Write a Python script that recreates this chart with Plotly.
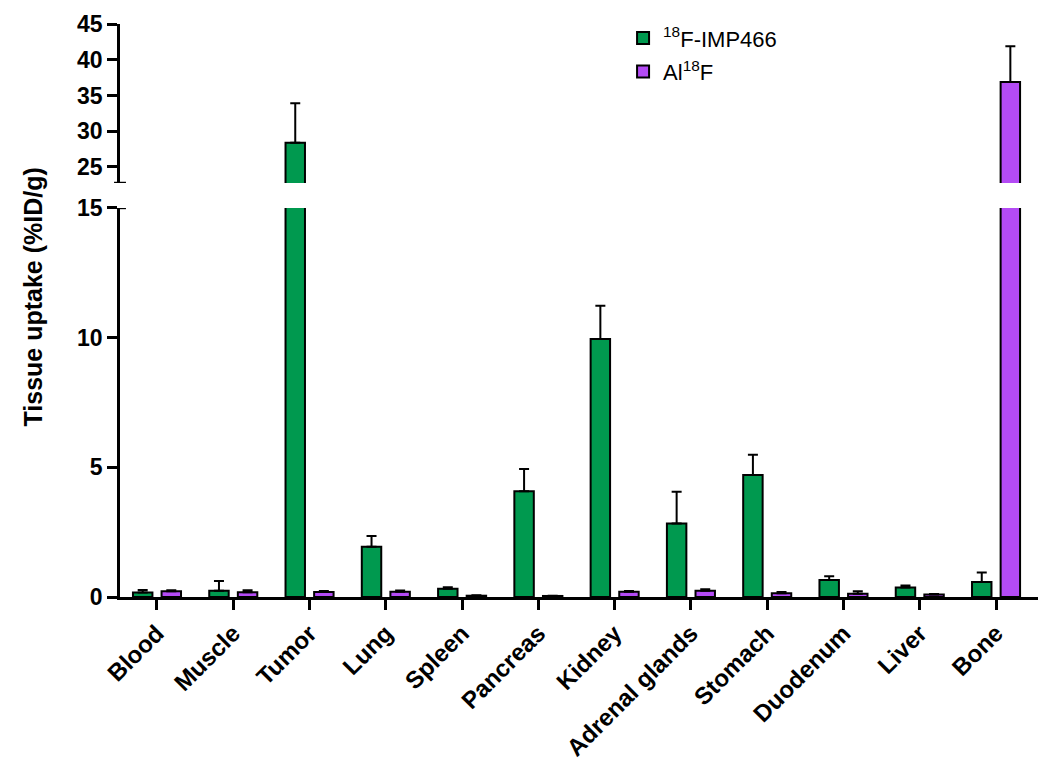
import plotly.graph_objects as go

# tissue uptake, %ID/g (mean and upper SD)
tissues = ["Blood", "Muscle", "Tumor", "Lung", "Spleen", "Pancreas", "Kidney",
           "Adrenal glands", "Stomach", "Duodenum", "Liver", "Bone"]
imp466 = [0.17, 0.24, 28.4, 1.94, 0.32, 4.08, 9.95, 2.83, 4.70, 0.66, 0.37, 0.58]
imp466_sd = [0.10, 0.38, 5.5, 0.41, 0.06, 0.85, 1.28, 1.23, 0.78, 0.14, 0.07, 0.36]
alf = [0.22, 0.18, 0.19, 0.20, 0.05, 0.04, 0.20, 0.24, 0.14, 0.13, 0.10, 36.9]
alf_sd = [0.04, 0.08, 0.04, 0.05, 0.02, 0.01, 0.03, 0.06, 0.05, 0.09, 0.02, 5.0]

lower_ticks = [0, 5, 10, 15]
upper_ticks = [25, 30, 35, 40, 45]

GREEN = "#00994F"
PURPLE = "#B44BF5"
FONT = "Liberation Sans, Arial, sans-serif"

fig = go.Figure()


def add_bars(vals, sd, name, color, yaxis, show):
    fig.add_trace(go.Bar(
        x=tissues, y=vals, name=name, yaxis=yaxis, showlegend=show,
        legendgroup=name,
        marker=dict(color=color, line=dict(color="black", width=2)),
        error_y=dict(type="data", symmetric=False, array=sd,
                     arrayminus=[0] * len(sd), color="black",
                     thickness=2, width=5),
    ))


add_bars(imp466, imp466_sd, "<sup>18</sup>F-IMP466", GREEN, "y", True)
add_bars(alf, alf_sd, "Al<sup>18</sup>F", PURPLE, "y", True)
add_bars(imp466, imp466_sd, "<sup>18</sup>F-IMP466", GREEN, "y2", False)
add_bars(alf, alf_sd, "Al<sup>18</sup>F", PURPLE, "y2", False)

axis_common = dict(showline=True, linecolor="black", linewidth=2.5,
                   ticks="outside", ticklen=10, tickwidth=2.5, tickcolor="black",
                   showgrid=False, zeroline=False, automargin=False,
                   tickfont=dict(family=FONT, size=23, color="black", weight="bold"))

# page body has an 8px margin, so the figure is a bit smaller than the window
fig.update_layout(
    width=1042, height=772,
    margin=dict(l=112, r=12, t=16, b=183, autoexpand=False),
    paper_bgcolor="white", plot_bgcolor="white",
    barmode="group", bargap=0.25, bargroupgap=0.32,
    font=dict(family=FONT, color="black"),
    xaxis=dict(range=[-0.485, 11.55], tickangle=-45, **axis_common),
    yaxis=dict(domain=[0, 0.679], range=[0, 15], tickvals=lower_ticks,
               anchor="x", **axis_common),
    yaxis2=dict(domain=[0.7225, 1], range=[22.75, 45], tickvals=upper_ticks,
                anchor="x", **axis_common),
    legend=dict(x=0.548, y=1.012, xanchor="left", yanchor="top",
                font=dict(family=FONT, size=22, color="black"),
                bgcolor="rgba(0,0,0,0)", traceorder="grouped",
                tracegroupgap=2),
    annotations=[dict(
        text="<b>Tissue uptake (%ID/g)</b>", textangle=-90,
        x=-0.095, y=0.524, xref="paper", yref="paper",
        xanchor="center", yanchor="middle", showarrow=False,
        font=dict(family=FONT, size=25, color="black"),
    )],
    shapes=[
        # axis break marks
        dict(type="line", xref="paper", yref="y2", x0=-0.0065, x1=0.0065,
             y0=22.75, y1=22.75, line=dict(color="black", width=2.5)),
        dict(type="line", xref="paper", yref="y", x0=0, x1=0.0065,
             y0=15, y1=15, line=dict(color="black", width=2.5)),
    ],
)
fig.update_xaxes(tickfont_size=24)

fig.write_html("out.html")
